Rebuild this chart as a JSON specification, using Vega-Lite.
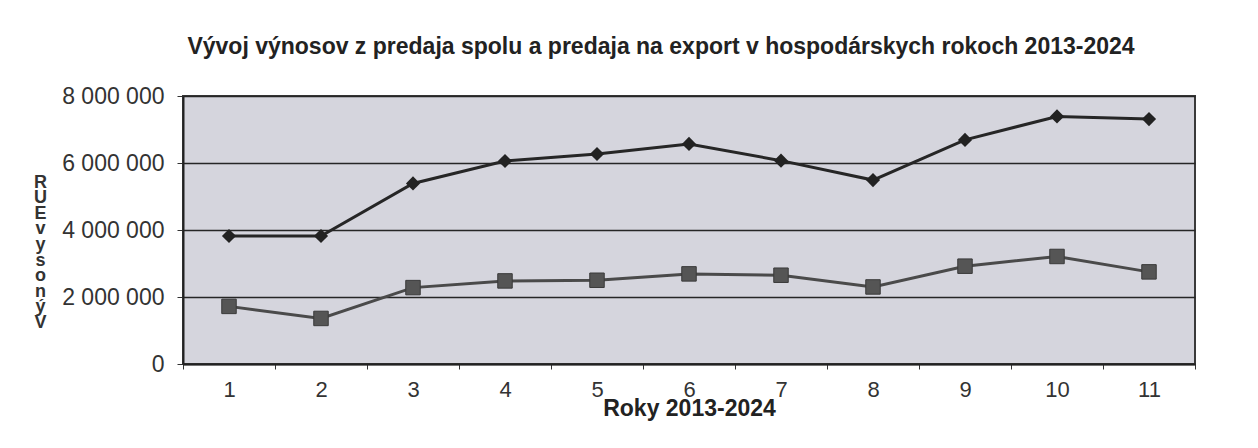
{
  "$schema": "https://vega.github.io/schema/vega-lite/v6.json",
  "autosize": "none",
  "width": 1012,
  "height": 268,
  "padding": {"left": 183, "top": 96, "right": 63, "bottom": 84},
  "background": "#ffffff",
  "title": {
    "text": "Vývoj výnosov z predaja spolu a predaja na export v hospodárskych rokoch 2013-2024",
    "font": "Liberation Sans",
    "fontSize": 23,
    "fontWeight": "bold",
    "color": "#222222",
    "anchor": "middle",
    "offset": 26,
    "dx": -28
  },
  "config": {
    "view": {"fill": "#d5d5dd", "stroke": "#3a3a3a", "strokeWidth": 2},
    "font": "Liberation Sans"
  },
  "data": {
    "values": [
      {"rok": "1", "seria": "Predaj spolu", "vynosy": 3820000},
      {"rok": "2", "seria": "Predaj spolu", "vynosy": 3820000},
      {"rok": "3", "seria": "Predaj spolu", "vynosy": 5390000},
      {"rok": "4", "seria": "Predaj spolu", "vynosy": 6060000},
      {"rok": "5", "seria": "Predaj spolu", "vynosy": 6270000},
      {"rok": "6", "seria": "Predaj spolu", "vynosy": 6570000},
      {"rok": "7", "seria": "Predaj spolu", "vynosy": 6070000},
      {"rok": "8", "seria": "Predaj spolu", "vynosy": 5490000},
      {"rok": "9", "seria": "Predaj spolu", "vynosy": 6690000},
      {"rok": "10", "seria": "Predaj spolu", "vynosy": 7390000},
      {"rok": "11", "seria": "Predaj spolu", "vynosy": 7310000},
      {"rok": "1", "seria": "Export", "vynosy": 1720000},
      {"rok": "2", "seria": "Export", "vynosy": 1360000},
      {"rok": "3", "seria": "Export", "vynosy": 2280000},
      {"rok": "4", "seria": "Export", "vynosy": 2480000},
      {"rok": "5", "seria": "Export", "vynosy": 2500000},
      {"rok": "6", "seria": "Export", "vynosy": 2690000},
      {"rok": "7", "seria": "Export", "vynosy": 2650000},
      {"rok": "8", "seria": "Export", "vynosy": 2300000},
      {"rok": "9", "seria": "Export", "vynosy": 2920000},
      {"rok": "10", "seria": "Export", "vynosy": 3210000},
      {"rok": "11", "seria": "Export", "vynosy": 2750000}
    ]
  },
  "encoding": {
    "x": {
      "field": "rok",
      "type": "ordinal",
      "sort": ["1","2","3","4","5","6","7","8","9","10","11"],
      "scale": {"paddingInner": 0, "paddingOuter": 0},
      "axis": {
        "title": "Roky 2013-2024",
        "titleFont": "Liberation Sans",
        "titleFontSize": 23,
        "titleFontWeight": "bold",
        "titleColor": "#222222",
        "titleBaseline": "top",
        "titleY": 33,
        "labelAngle": 0,
        "labelFont": "Liberation Sans",
        "labelFontSize": 22,
        "labelColor": "#333333",
        "labelPadding": 10,
        "tickBand": "extent",
        "tickSize": 5,
        "tickColor": "#333333",
        "domainColor": "#222222",
        "domainWidth": 2
      }
    },
    "y": {
      "field": "vynosy",
      "type": "quantitative",
      "scale": {"domain": [0, 8000000], "nice": false},
      "axis": {
        "values": [0, 2000000, 4000000, 6000000, 8000000],
        "format": ",d",
        "labelExpr": "replace(datum.label, /,/g, ' ')",
        "labelFont": "Liberation Sans",
        "labelFontSize": 23,
        "labelColor": "#333333",
        "labelPadding": 13,
        "tickSize": 6,
        "tickColor": "#333333",
        "domainColor": "#222222",
        "domainWidth": 2,
        "grid": true,
        "gridColor": "#262626",
        "gridWidth": 1.6,
        "title": ["R","U","E","v","y","s","o","n","ý","V"],
        "titleAngle": 0,
        "titleFont": "Liberation Sans",
        "titleFontSize": 18,
        "titleFontWeight": "bold",
        "titleColor": "#333333",
        "titleLineHeight": 15.6,
        "titleBaseline": "top",
        "titleAlign": "center",
        "titleX": -143,
        "titleY": 77
      }
    }
  },
  "layer": [
    {
      "transform": [{"filter": "datum.seria === 'Predaj spolu'"}],
      "mark": {"type": "line", "color": "#262626", "strokeWidth": 3,
        "point": {"shape": "diamond", "size": 200, "filled": true, "color": "#222222"}}
    },
    {
      "transform": [{"filter": "datum.seria === 'Export'"}],
      "mark": {"type": "line", "color": "#4a4a4a", "strokeWidth": 3,
        "point": {"shape": "square", "size": 210, "filled": true, "color": "#555555", "stroke": "#3a3a3a", "strokeWidth": 1}}
    }
  ]
}
